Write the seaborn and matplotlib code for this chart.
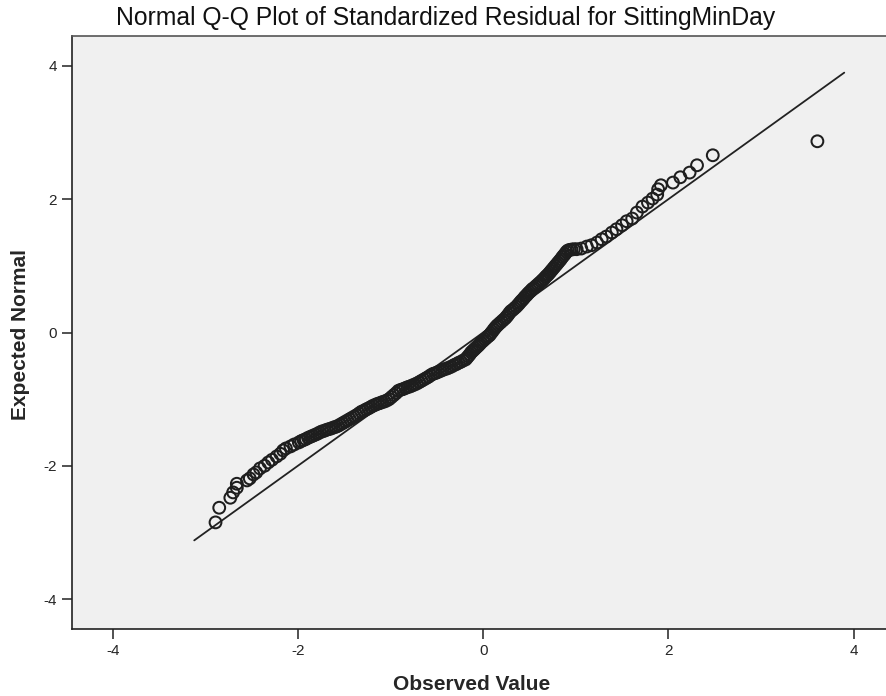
import numpy as np
import pandas as pd
import seaborn as sns
from matplotlib import pyplot as plt
from matplotlib.collections import PathCollection

# observed standardized residuals (x) and expected normal quantiles (y)
# lower tail
obs_low = [-2.89, -2.85, -2.73, -2.70, -2.66, -2.66, -2.55, -2.52, -2.48, -2.45,
           -2.41, -2.36, -2.32, -2.28, -2.23, -2.19, -2.16, -2.13, -2.08, -2.04]
exp_low = [-2.85, -2.63, -2.48, -2.40, -2.33, -2.27, -2.22, -2.19, -2.13, -2.10,
           -2.04, -2.00, -1.95, -1.91, -1.86, -1.82, -1.77, -1.74, -1.71, -1.68]
# dense middle part
obs_mid = [
    -1.99, -1.965, -1.94, -1.915, -1.89, -1.865, -1.84, -1.815, -1.79, -1.765,
    -1.74, -1.715, -1.69, -1.665, -1.64, -1.615, -1.59, -1.565, -1.54, -1.515,
    -1.49, -1.465, -1.44, -1.415, -1.39, -1.365, -1.34, -1.315, -1.29, -1.265,
    -1.24, -1.215, -1.19, -1.165, -1.14, -1.115, -1.09, -1.065, -1.04, -1.015,
    -0.99, -0.965, -0.94, -0.915, -0.89, -0.865, -0.84, -0.815, -0.79, -0.765,
    -0.74, -0.715, -0.69, -0.665, -0.64, -0.615, -0.59, -0.565, -0.54, -0.515,
    -0.49, -0.465, -0.44, -0.415, -0.39, -0.365, -0.34, -0.315, -0.29, -0.265,
    -0.24, -0.215, -0.19, -0.175, -0.16, -0.145, -0.13, -0.115, -0.10, -0.085,
    -0.07, -0.055, -0.04, -0.02, 0.00, 0.02, 0.04, 0.055, 0.07, 0.085,
    0.10, 0.115, 0.13, 0.145, 0.16, 0.18, 0.20, 0.22, 0.24, 0.255,
    0.27, 0.285, 0.30, 0.32, 0.34, 0.36, 0.38, 0.395, 0.41, 0.425,
    0.44, 0.455, 0.47, 0.485, 0.50, 0.515, 0.53, 0.55, 0.57, 0.59,
    0.61, 0.63, 0.645, 0.66, 0.675, 0.69, 0.705, 0.72, 0.735, 0.75,
    0.765, 0.78, 0.795, 0.81, 0.825, 0.84, 0.855, 0.87, 0.885, 0.90,
    0.915, 0.935, 0.955, 0.98,
]
exp_mid = [
    -1.65, -1.63, -1.615, -1.60, -1.58, -1.565, -1.55, -1.535, -1.52, -1.50,
    -1.485, -1.475, -1.46, -1.45, -1.44, -1.425, -1.415, -1.40, -1.38, -1.36,
    -1.34, -1.32, -1.30, -1.28, -1.26, -1.24, -1.215, -1.19, -1.175, -1.155,
    -1.14, -1.12, -1.10, -1.085, -1.07, -1.06, -1.045, -1.035, -1.02, -1.00,
    -0.97, -0.94, -0.91, -0.875, -0.86, -0.85, -0.835, -0.82, -0.81, -0.795,
    -0.78, -0.765, -0.745, -0.725, -0.705, -0.685, -0.665, -0.64, -0.62, -0.61,
    -0.595, -0.58, -0.565, -0.55, -0.54, -0.525, -0.51, -0.49, -0.475, -0.455,
    -0.44, -0.42, -0.405, -0.38, -0.355, -0.33, -0.30, -0.28, -0.26, -0.24,
    -0.22, -0.20, -0.18, -0.15, -0.125, -0.10, -0.075, -0.055, -0.04, -0.01,
    0.015, 0.045, 0.07, 0.095, 0.115, 0.14, 0.165, 0.19, 0.215, 0.24,
    0.265, 0.295, 0.32, 0.34, 0.365, 0.39, 0.42, 0.445, 0.47, 0.49,
    0.515, 0.54, 0.56, 0.585, 0.605, 0.625, 0.65, 0.67, 0.695, 0.72,
    0.745, 0.77, 0.79, 0.81, 0.835, 0.855, 0.875, 0.90, 0.925, 0.95,
    0.975, 1.00, 1.025, 1.05, 1.075, 1.10, 1.13, 1.155, 1.18, 1.21,
    1.23, 1.24, 1.245, 1.25,
]
# upper tail
obs_high = [1.01, 1.06, 1.12, 1.17, 1.23, 1.28, 1.33, 1.39, 1.44, 1.50,
            1.55, 1.61, 1.66, 1.72, 1.78, 1.83, 1.88, 1.89, 1.92, 2.05,
            2.13, 2.23, 2.31, 2.48, 3.61]
exp_high = [1.25, 1.26, 1.29, 1.31, 1.35, 1.40, 1.44, 1.50, 1.55, 1.61,
            1.67, 1.71, 1.80, 1.89, 1.95, 2.01, 2.07, 2.15, 2.21, 2.25,
            2.33, 2.40, 2.51, 2.66, 2.87]
ref_line = [-3.12, 3.90]
xticks = [-4, -2, 0, 2, 4]
yticks = [-4, -2, 0, 2, 4]

df = pd.DataFrame({'Observed Value': obs_low + obs_mid + obs_high,
                   'Expected Normal': exp_low + exp_mid + exp_high})

sns.set_style('white')
plt.rcParams['font.family'] = ['Liberation Sans', 'DejaVu Sans']
plt.rcParams['axes.unicode_minus'] = False

fig = plt.figure(figsize=(8.86, 6.96), dpi=100)
ax = fig.add_axes([72 / 886, 67 / 696, 1 - 72 / 886 + 0.002, (629 - 36) / 696])
ax.set_facecolor('#f0f0f0')

sns.lineplot(x=ref_line, y=ref_line, ax=ax, color='#222222', linewidth=1.3, errorbar=None)
sns.scatterplot(data=df, x='Observed Value', y='Expected Normal', ax=ax,
                s=72, marker='o', edgecolor='#1e1e1e', linewidth=1.45, zorder=3)
for coll in ax.collections:
    if isinstance(coll, PathCollection):
        coll.set_facecolor('none')

ax.set_xlim(-4.44, 4.37)
ax.set_ylim(-4.45, 4.45)
ax.set_xticks(xticks)
ax.set_yticks(yticks)
ax.tick_params(axis='both', direction='out', length=7, width=1.2, color='#333333',
               labelsize=11, pad=4, left=True, bottom=True)
for side in ['left', 'bottom']:
    ax.spines[side].set_color('#222222')
    ax.spines[side].set_linewidth(1.2)
ax.spines['top'].set_color('#555555')
ax.spines['top'].set_linewidth(1.2)
ax.spines['right'].set_visible(False)

ax.set_xlabel('Observed Value', fontsize=15, fontweight='bold')
ax.set_ylabel('Expected Normal', fontsize=15, fontweight='bold')
ax.xaxis.set_label_coords(0.49, -0.077)
ax.yaxis.set_label_coords(-0.052, 0.497)
fig.suptitle('Normal Q-Q Plot of Standardized Residual for SittingMinDay',
             fontsize=17.8, x=0.503, y=0.992, va='top', color='#111111')

fig.savefig('out.png', dpi=100)
